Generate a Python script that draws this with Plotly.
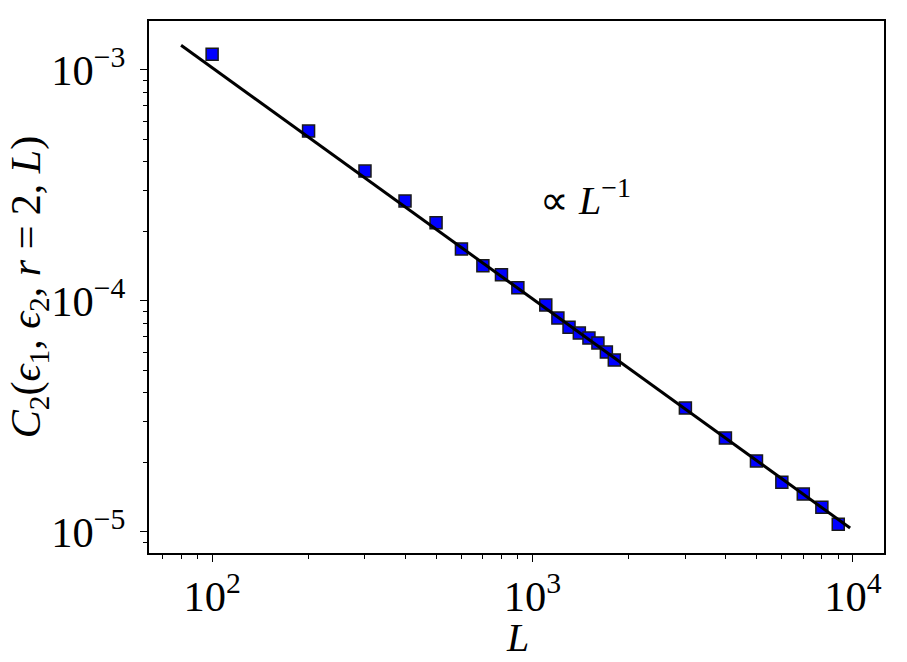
import plotly.graph_objects as go

L_values = [100, 200, 300, 400, 500, 600, 700, 800, 900,
            1100, 1200, 1300, 1400, 1500, 1600, 1700, 1800,
            3000, 4000, 5000, 6000, 7000, 8000, 9000]
C2_values = [1.17e-3, 5.44e-4, 3.65e-4, 2.71e-4, 2.18e-4, 1.68e-4, 1.42e-4, 1.30e-4, 1.14e-4,
             9.6e-5, 8.44e-5, 7.7e-5, 7.26e-5, 6.91e-5, 6.58e-5, 6.01e-5, 5.55e-5,
             3.44e-5, 2.55e-5, 2.03e-5, 1.64e-5, 1.46e-5, 1.28e-5, 1.08e-5]

fit_L = [80, 9800]
fit_C2 = [1.28e-3, 1.04e-5]

x_title = "<i>L</i>"
y_title = "<i>C</i><sub>2</sub>(<i>ϵ</i><sub>1</sub>, <i>ϵ</i><sub>2</sub>, <i>r</i> = 2, <i>L</i>)"
fit_label = "∝ <i>L</i><sup>−1</sup>"

FONT = "Liberation Serif"

fig = go.Figure()
fig.add_trace(go.Scatter(
    x=L_values, y=C2_values, mode="markers",
    marker=dict(symbol="square", size=12, color="#0000ff",
                line=dict(color="#1a1a1a", width=1.5)),
    showlegend=False))
fig.add_trace(go.Scatter(
    x=fit_L, y=fit_C2, mode="lines",
    line=dict(color="black", width=3), showlegend=False))

fig.add_annotation(x=3.165, y=-3.55, xref="x", yref="y",
                   text=fit_label, showarrow=False,
                   font=dict(family=FONT, size=40, color="black"))

# axis titles placed as annotations for exact positioning
fig.add_annotation(x=0.501, y=-0.158, xref="paper", yref="paper",
                   xanchor="center", yanchor="middle",
                   text=x_title, showarrow=False,
                   font=dict(family=FONT, size=40, color="black"))
fig.add_annotation(x=-0.163, y=0.5, xref="paper", yref="paper",
                   xanchor="center", yanchor="middle", textangle=-90,
                   text=y_title, showarrow=False,
                   font=dict(family=FONT, size=42, color="black"))

axis_common = dict(
    type="log", showline=True, linecolor="black", linewidth=1.5, mirror=True,
    showgrid=False, zeroline=False, ticks="outside", ticklen=7, tickwidth=1.2,
    tickcolor="black", dtick=1, exponentformat="power", showexponent="all",
    tickfont=dict(family=FONT, size=34, color="black"), automargin=False,
    minor=dict(ticks="outside", ticklen=4, tickwidth=1, tickcolor="black",
               dtick="D1", showgrid=False),
)

fig.update_xaxes(**axis_common, range=[1.803, 4.097])
fig.update_yaxes(**axis_common, range=[-5.091, -2.788], ticklabelstandoff=8)

fig.update_layout(
    width=907, height=662,
    margin=dict(l=149, r=23, t=21, b=109, autoexpand=False),
    plot_bgcolor="white", paper_bgcolor="white",
)

fig.write_html("out.html")
